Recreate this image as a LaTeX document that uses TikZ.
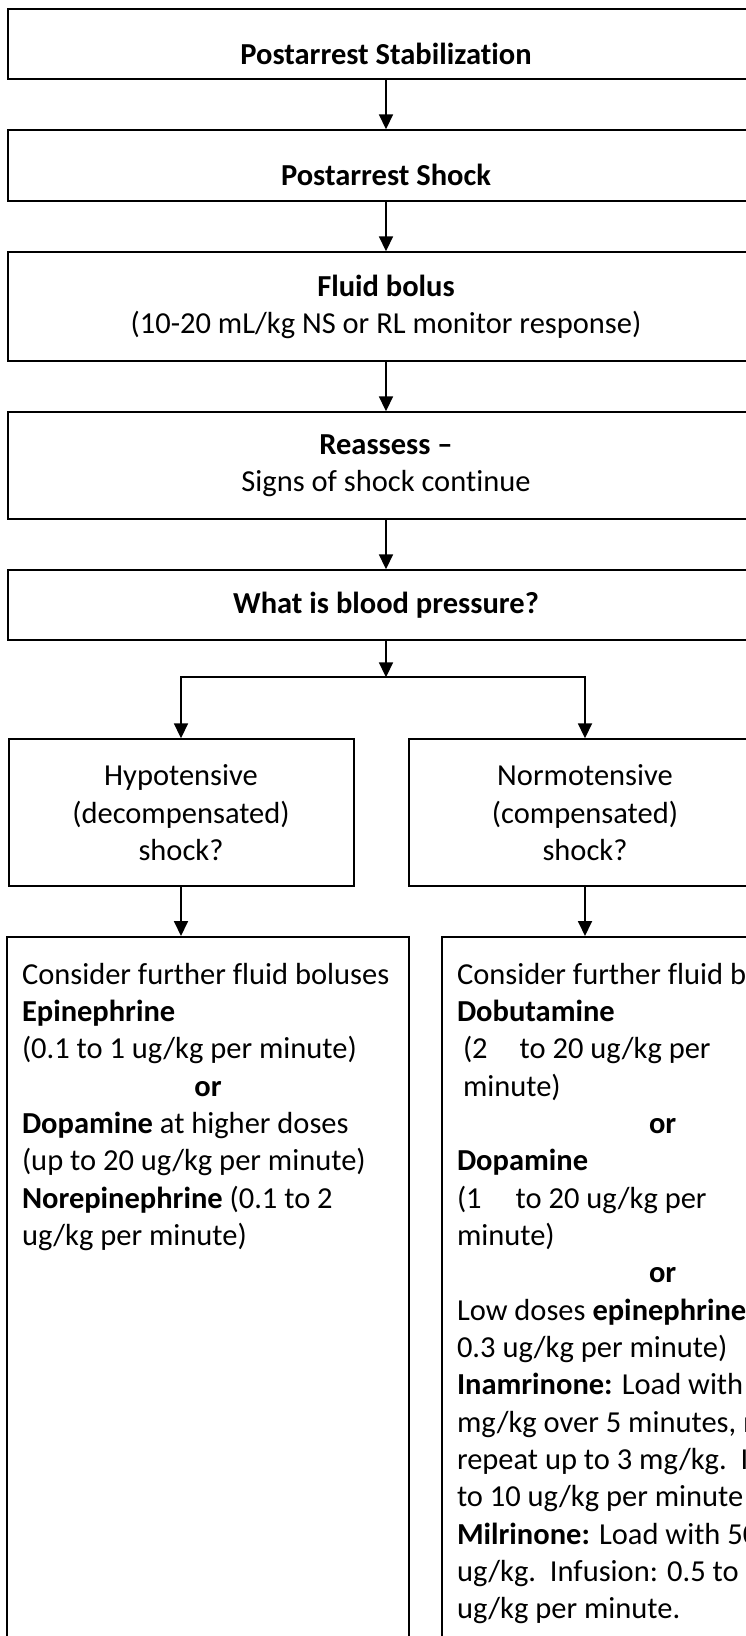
\documentclass[tikz,border=0pt]{standalone}
\usepackage{fontspec}
\setmainfont{Carlito}[Ligatures=NoCommon]
\usetikzlibrary{arrows.meta,positioning}
\newcommand{\flowfont}{\fontsize{30.5}{37.35}\selectfont}
\tikzset{
flow/.style={>={Triangle[width=14pt,length=15pt]},line width=1.8pt,
node distance=49pt},
box/.style={draw,line width=2pt,minimum width=757pt,align=center,
inner sep=0pt,font=\flowfont},
choice/.style={box,minimum height=146.7pt},
treat/.style={draw,line width=2pt,align=flush left,inner xsep=15pt,inner ysep=0pt,
text width=372pt,text height=47pt,text depth=700pt,font=\flowfont,
execute at begin node={\spaceskip=0pt\relax\hyphenpenalty=10000\relax}},
}

\begin{document}
\begin{tikzpicture}[flow,x=1pt,y=1pt]
\useasboundingbox (0,0) rectangle (746,-1636);
\clip (0,0) rectangle (746,-1636);
\node[box,minimum height=70.6pt,text height=56pt,text depth=14.6pt] (stab) at (386,-44) {\textbf{Postarrest Stabilization}};
\node[box,minimum height=71pt,text height=55pt,text depth=16pt,below=of stab] (shock) {\textbf{Postarrest Shock}};
\node[box,minimum height=109pt,below=of shock] (bolus) {\textbf{Fluid bolus}\\(10-20 mL/kg NS or RL monitor response)};
\node[box,minimum height=107pt,below=of bolus] (reassess) {\textbf{Reassess –}\\Signs of shock continue};
\node[box,minimum height=70pt,below=of reassess] (bp) {\textbf{What is blood pressure?}};
\coordinate[below=36pt of bp] (split);

\node[choice,minimum width=345pt,below=61pt of split,xshift=-205pt] (hypo) {Hypotensive\\(decompensated)\\shock?};
\node[choice,minimum width=352pt,below=61pt of split,xshift=199pt] (norm) {Normotensive\\(compensated)\\shock?};

\node[treat,below=49pt of hypo,xshift=27pt] (hypotreat) {Consider further fluid boluses\\
\textbf{Epinephrine}\\
(0.1 to 1 ug/kg per minute)\\
\makebox[\linewidth]{\textbf{or}}\\
\textbf{Dopamine} at higher doses\\
(up to 20 ug/kg per minute)\\
\textbf{Norepinephrine} (0.1 to 2\\
ug/kg per minute)};
\node[treat,text width=460pt,below=49pt of norm.south west,anchor=north west,xshift=33pt] (normtreat) {Consider further fluid boluses\\
\textbf{Dobutamine}\\
\hspace*{6pt}(2\hspace{32pt}to 20 ug/kg per\\
\hspace*{6pt}minute)\\
\hspace*{192pt}\textbf{or}\\
\textbf{Dopamine}\\
(1\hspace{34pt}to 20 ug/kg per\\
minute)\\
\hspace*{192pt}\textbf{or}\\
Low doses \textbf{epinephrine}\\
0.3 ug/kg per minute)\\
\textbf{Inamrinone:} Load with\\
mg/kg over 5 minutes, may\\
repeat up to 3 mg/kg.\ \ Infusion:\\
to 10 ug/kg per minute\\
\textbf{Milrinone:} Load with 50\\
ug/kg.\ \ Infusion: 0.5 to 0.75\\
ug/kg per minute.};

\draw[->] (stab) -- (shock);
\draw[->] (shock) -- (bolus);
\draw[->] (bolus) -- (reassess);
\draw[->] (reassess) -- (bp);
\draw[->] (bp) -- (split);
\draw[->] (split) -| (hypo);
\draw[->] (split) -| (norm);
\draw[->] (hypo) -- (hypo.south |- hypotreat.north);
\draw[->] (norm) -- (norm.south |- normtreat.north);
\end{tikzpicture}
\end{document}
